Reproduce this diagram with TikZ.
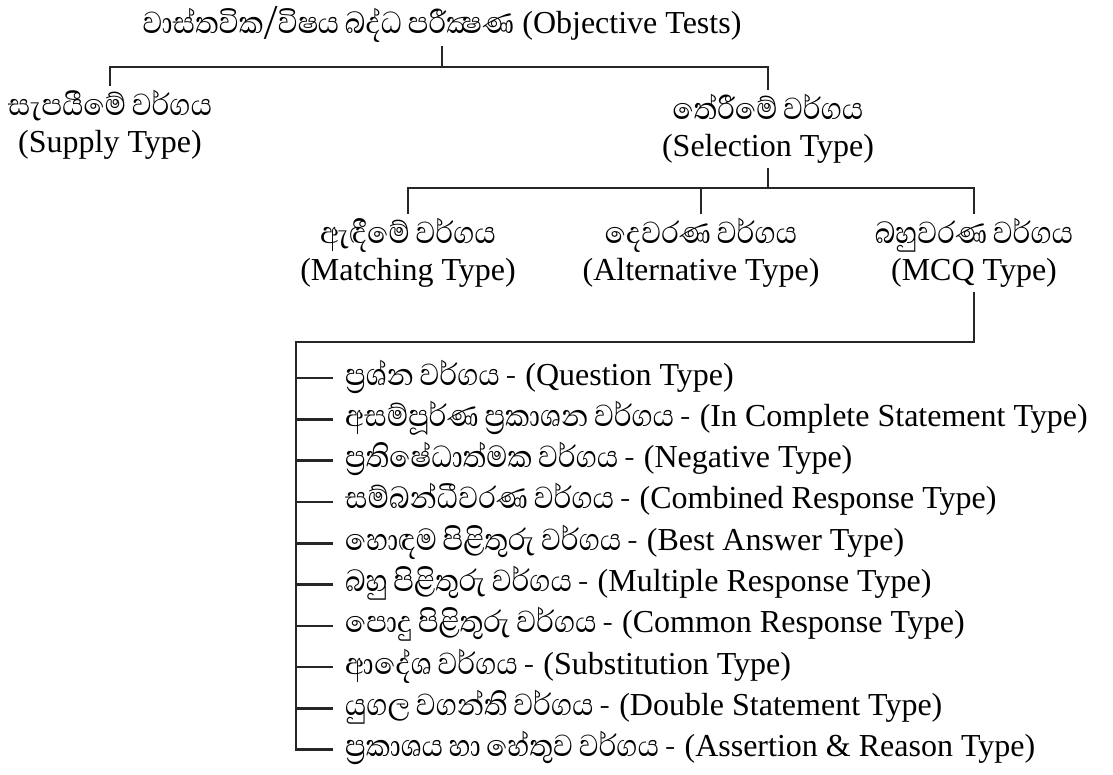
\documentclass[tikz,border=0pt]{standalone}
\usepackage{fontspec}
\setmainfont{Liberation Serif}
\newfontfamily\sinfont[Script=Sinhala,Scale=1.22,FakeStretch=0.9,WordSpace=0.85]{Abhaya Libre}
\begin{document}
\begin{tikzpicture}[x=1pt,y=-1pt,
  conn/.style={draw=black!85, line width=2.6pt},
  lab/.style={align=center, inner sep=0pt, outer sep=4pt, font=\fontsize{32}{37}\selectfont},
  item/.style={anchor=west, inner xsep=12pt, inner ysep=0pt, text height=22pt, text depth=8pt, font=\fontsize{32}{37}\selectfont}]
\useasboundingbox (0,0) rectangle (1113,774);
\node[lab] (title) at (442,24) {{\sinfont වාස්තවික/විෂය බද්ධ පරීක්‍ෂණ} (Objective Tests)};
\node[lab] (supply) at (110,125) {{\sinfont සැපයීමේ වර්ගය}\\(Supply Type)};
\node[lab] (select) at (768,129) {{\sinfont තේරීමේ වර්ගය}\\(Selection Type)};
\node[lab] (match) at (408,253) {{\sinfont ඇඳීමේ වර්ගය}\\(Matching Type)};
\node[lab] (alt) at (701,253) {{\sinfont දෙවරණ වර්ගය}\\(Alternative Type)};
\node[lab] (mcq) at (974,253) {{\sinfont බහුවරණ වර්ගය}\\(MCQ Type)};
\coordinate (h1) at (0,67);
\coordinate (h2) at (0,188);
\coordinate (h3) at (0,342);
\coordinate (spine) at (296,0);
\draw[conn] (title.south) -- (title.south |- h1) -| (supply.north);
\draw[conn] (title.south |- h1) -| (select.north);
\draw[conn] (select.south) -- (select.south |- h2) -| (match.north);
\draw[conn] (select.south |- h2) -| (mcq.north);
\draw[conn] (alt.north) -- (alt.north |- h2);
\foreach \n/\s/\e [count=\k from 0] in {
  i1/ප්‍රශ්න වර්ගය/(Question Type),
  i2/අසම්පූර්ණ ප්‍රකාශන වර්ගය/(In Complete Statement Type),
  i3/ප්‍රතිෂේධාත්මක වර්ගය/(Negative Type),
  i4/සම්බන්ධීවරණ වර්ගය/(Combined Response Type),
  i5/හොඳම පිළිතුරු වර්ගය/(Best Answer Type),
  i6/බහු පිළිතුරු වර්ගය/(Multiple Response Type),
  i7/පොදු පිළිතුරු වර්ගය/(Common Response Type),
  i8/ආදේශ වර්ගය/(Substitution Type),
  i9/යුගල වගන්ති වර්ගය/(Double Statement Type),
  i10/ප්‍රකාශය හා හේතුව වර්ගය/(Assertion \& Reason Type)}
  \node[item] (\n) at (333,{378+41.3*\k}) {{\sinfont \s{} -} \e};
\draw[conn] (mcq.south) -- (mcq.south |- h3) -- (spine |- h3) -- (spine |- i10.west) -- (i10.west);
\foreach \n in {i1,i2,i3,i4,i5,i6,i7,i8,i9}
  \draw[conn] (spine |- \n.west) -- (\n.west);
\end{tikzpicture}
\end{document}
